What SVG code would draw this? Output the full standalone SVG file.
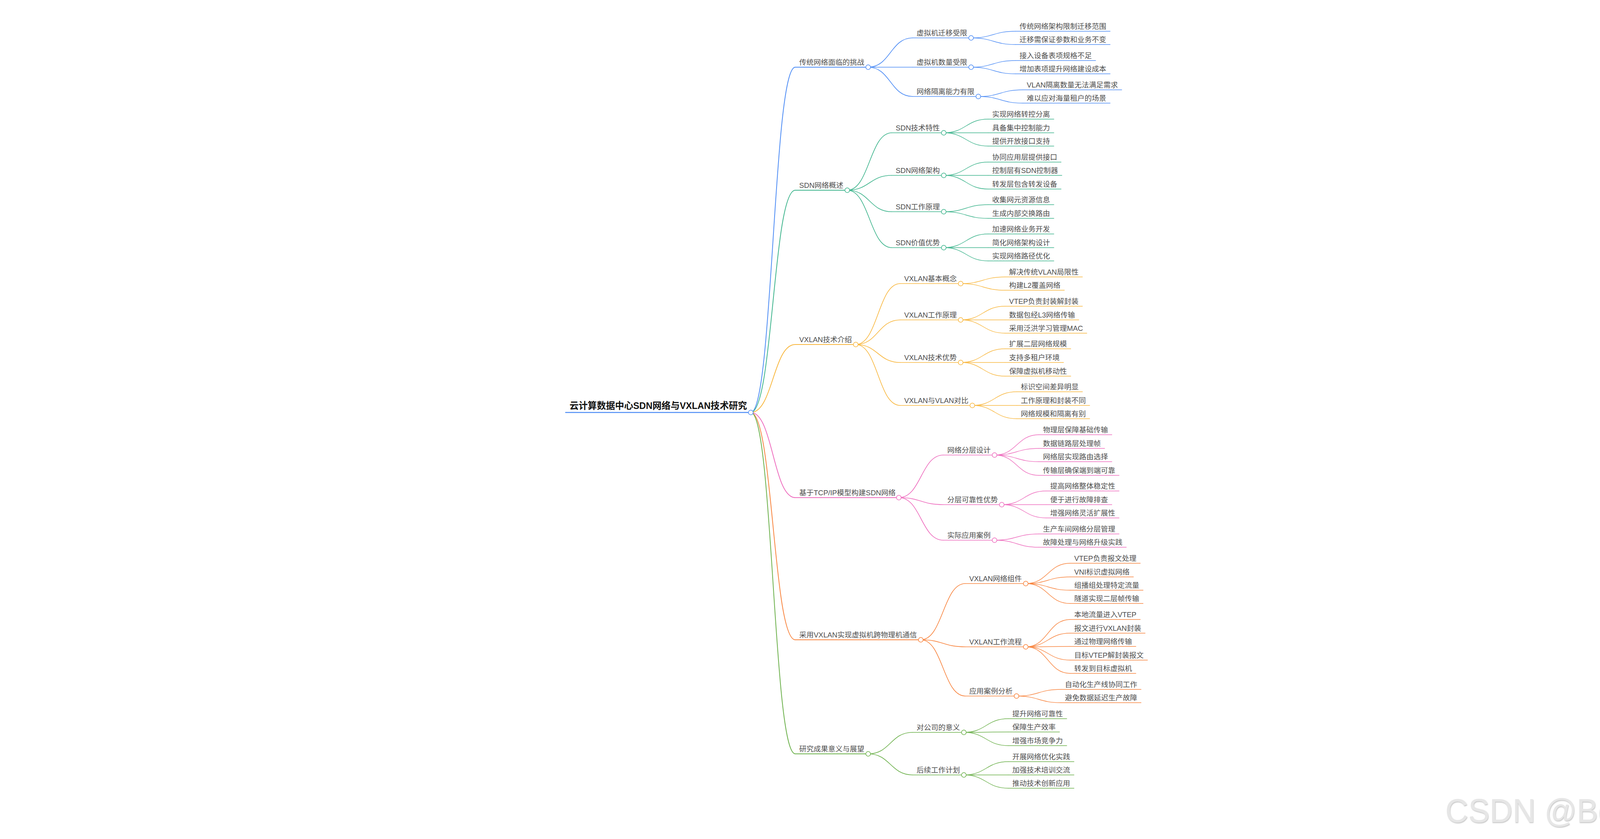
<svg xmlns="http://www.w3.org/2000/svg" width="4380" height="2148" viewBox="0 0 4380 2148">
<defs>
<style>
.b{stroke:#4D8CF5}.t{stroke:#3DB48C}.y{stroke:#F8B73E}.p{stroke:#EE6DBE}.o{stroke:#F8843E}.g{stroke:#6BB04A}
.d0{stroke-width:2.6}.d1{stroke-width:2}.d2{stroke-width:1.7}.d3{stroke-width:1.4}
#connectors path{fill:none}
line{stroke-linecap:round}
circle{fill:#fff;stroke-width:1.6}
text{font-family:"Liberation Sans","Noto Sans CJK SC",sans-serif;font-size:18.5px;fill:#4d4d4d;stroke:none}
text.root{font-size:23.3px;font-weight:bold;fill:#111}
text.wm{font-size:86px;fill:#e6e6e6}
</style>
<filter id="sh" x="-2%" y="-10%" width="104%" height="125%"><feDropShadow dx="1" dy="2" stdDeviation="1" flood-color="#b4b4b4" flood-opacity="0.8"/></filter>
</defs>
<rect width="4380" height="2148" fill="#fff"/>
<g id="connectors">
<path class="b d1" d="M1922,1056C1979,1056 1979,172 2036,172"/>
<path class="t d1" d="M1922,1056C1979,1056 1979,487 2036,487"/>
<path class="y d1" d="M1922,1056C1979,1056 1979,882 2036,882"/>
<path class="p d1" d="M1922,1056C1979,1056 1979,1274 2036,1274"/>
<path class="o d1" d="M1922,1056C1979,1056 1979,1638 2036,1638"/>
<path class="g d1" d="M1922,1056C1979,1056 1979,1930 2036,1930"/>
<path class="b d2" d="M2222.5,172C2279.5,172 2279.5,97 2336.5,97"/>
<path class="b d2" d="M2222.5,172C2279.5,172 2279.5,172 2336.5,172"/>
<path class="b d2" d="M2222.5,172C2279.5,172 2279.5,247 2336.5,247"/>
<path class="b d3" d="M2486,97C2543,97 2543,80 2600,80"/>
<path class="b d3" d="M2486,97C2543,97 2543,114 2600,114"/>
<path class="b d3" d="M2486,172C2543,172 2543,155 2600,155"/>
<path class="b d3" d="M2486,172C2543,172 2543,189 2600,189"/>
<path class="b d3" d="M2504.5,247C2561.5,247 2561.5,230 2618.5,230"/>
<path class="b d3" d="M2504.5,247C2561.5,247 2561.5,264 2618.5,264"/>
<path class="t d2" d="M2169,487C2226,487 2226,340 2283,340"/>
<path class="t d2" d="M2169,487C2226,487 2226,449 2283,449"/>
<path class="t d2" d="M2169,487C2226,487 2226,542 2283,542"/>
<path class="t d2" d="M2169,487C2226,487 2226,634 2283,634"/>
<path class="t d3" d="M2416,340C2473,340 2473,305 2530,305"/>
<path class="t d3" d="M2416,340C2473,340 2473,340 2530,340"/>
<path class="t d3" d="M2416,340C2473,340 2473,374 2530,374"/>
<path class="t d3" d="M2416,449C2473,449 2473,415 2530,415"/>
<path class="t d3" d="M2416,449C2473,449 2473,449 2530,449"/>
<path class="t d3" d="M2416,449C2473,449 2473,484 2530,484"/>
<path class="t d3" d="M2416,542C2473,542 2473,524 2530,524"/>
<path class="t d3" d="M2416,542C2473,542 2473,559 2530,559"/>
<path class="t d3" d="M2416,634C2473,634 2473,599 2530,599"/>
<path class="t d3" d="M2416,634C2473,634 2473,634 2530,634"/>
<path class="t d3" d="M2416,634C2473,634 2473,668 2530,668"/>
<path class="y d2" d="M2190.7,882C2247.7,882 2247.7,726 2304.7,726"/>
<path class="y d2" d="M2190.7,882C2247.7,882 2247.7,819 2304.7,819"/>
<path class="y d2" d="M2190.7,882C2247.7,882 2247.7,928 2304.7,928"/>
<path class="y d2" d="M2190.7,882C2247.7,882 2247.7,1038 2304.7,1038"/>
<path class="y d3" d="M2459.3,726C2516.3,726 2516.3,709 2573.3,709"/>
<path class="y d3" d="M2459.3,726C2516.3,726 2516.3,743 2573.3,743"/>
<path class="y d3" d="M2459.3,819C2516.3,819 2516.3,784 2573.3,784"/>
<path class="y d3" d="M2459.3,819C2516.3,819 2516.3,819 2573.3,819"/>
<path class="y d3" d="M2459.3,819C2516.3,819 2516.3,853 2573.3,853"/>
<path class="y d3" d="M2459.3,928C2516.3,928 2516.3,893 2573.3,893"/>
<path class="y d3" d="M2459.3,928C2516.3,928 2516.3,928 2573.3,928"/>
<path class="y d3" d="M2459.3,928C2516.3,928 2516.3,963 2573.3,963"/>
<path class="y d3" d="M2489.2,1038C2546.2,1038 2546.2,1003 2603.2,1003"/>
<path class="y d3" d="M2489.2,1038C2546.2,1038 2546.2,1038 2603.2,1038"/>
<path class="y d3" d="M2489.2,1038C2546.2,1038 2546.2,1072 2603.2,1072"/>
<path class="p d2" d="M2301,1274C2358,1274 2358,1165 2415,1165"/>
<path class="p d2" d="M2301,1274C2358,1274 2358,1292 2415,1292"/>
<path class="p d2" d="M2301,1274C2358,1274 2358,1383 2415,1383"/>
<path class="p d3" d="M2546,1165C2603,1165 2603,1113 2660,1113"/>
<path class="p d3" d="M2546,1165C2603,1165 2603,1148 2660,1148"/>
<path class="p d3" d="M2546,1165C2603,1165 2603,1182 2660,1182"/>
<path class="p d3" d="M2546,1165C2603,1165 2603,1217 2660,1217"/>
<path class="p d3" d="M2564.5,1292C2621.5,1292 2621.5,1257 2678.5,1257"/>
<path class="p d3" d="M2564.5,1292C2621.5,1292 2621.5,1292 2678.5,1292"/>
<path class="p d3" d="M2564.5,1292C2621.5,1292 2621.5,1326 2678.5,1326"/>
<path class="p d3" d="M2546,1383C2603,1383 2603,1367 2660,1367"/>
<path class="p d3" d="M2546,1383C2603,1383 2603,1401 2660,1401"/>
<path class="o d2" d="M2357.2,1638C2414.2,1638 2414.2,1494 2471.2,1494"/>
<path class="o d2" d="M2357.2,1638C2414.2,1638 2414.2,1656 2471.2,1656"/>
<path class="o d2" d="M2357.2,1638C2414.2,1638 2414.2,1782 2471.2,1782"/>
<path class="o d3" d="M2625.9,1494C2682.9,1494 2682.9,1442 2739.9,1442"/>
<path class="o d3" d="M2625.9,1494C2682.9,1494 2682.9,1477 2739.9,1477"/>
<path class="o d3" d="M2625.9,1494C2682.9,1494 2682.9,1511 2739.9,1511"/>
<path class="o d3" d="M2625.9,1494C2682.9,1494 2682.9,1545 2739.9,1545"/>
<path class="o d3" d="M2625.9,1656C2682.9,1656 2682.9,1586 2739.9,1586"/>
<path class="o d3" d="M2625.9,1656C2682.9,1656 2682.9,1621 2739.9,1621"/>
<path class="o d3" d="M2625.9,1656C2682.9,1656 2682.9,1655 2739.9,1655"/>
<path class="o d3" d="M2625.9,1656C2682.9,1656 2682.9,1690 2739.9,1690"/>
<path class="o d3" d="M2625.9,1656C2682.9,1656 2682.9,1724 2739.9,1724"/>
<path class="o d3" d="M2602.2,1782C2659.2,1782 2659.2,1765 2716.2,1765"/>
<path class="o d3" d="M2602.2,1782C2659.2,1782 2659.2,1799 2716.2,1799"/>
<path class="g d2" d="M2222.5,1930C2279.5,1930 2279.5,1875 2336.5,1875"/>
<path class="g d2" d="M2222.5,1930C2279.5,1930 2279.5,1984 2336.5,1984"/>
<path class="g d3" d="M2467.5,1875C2524.5,1875 2524.5,1840 2581.5,1840"/>
<path class="g d3" d="M2467.5,1875C2524.5,1875 2524.5,1874 2581.5,1874"/>
<path class="g d3" d="M2467.5,1875C2524.5,1875 2524.5,1909 2581.5,1909"/>
<path class="g d3" d="M2467.5,1984C2524.5,1984 2524.5,1950 2581.5,1950"/>
<path class="g d3" d="M2467.5,1984C2524.5,1984 2524.5,1984 2581.5,1984"/>
<path class="g d3" d="M2467.5,1984C2524.5,1984 2524.5,2018 2581.5,2018"/>
</g>

<g id="n0" class="b"><line class="d0" x1="1448" y1="1056" x2="1922" y2="1056"/><circle cx="1922" cy="1056" r="6"/><text class="root" x="1458" y="1047">云计算数据中心SDN网络与VXLAN技术研究</text></g>

<g id="n1" class="b"><line class="d1" x1="2036" y1="172" x2="2222.5" y2="172"/><circle cx="2222.5" cy="172" r="6"/><text x="2046" y="165.5">传统网络面临的挑战</text></g>
<g id="n1a" class="b"><line class="d2" x1="2336.5" y1="97" x2="2486" y2="97"/><circle cx="2486" cy="97" r="6"/><text x="2346.5" y="90.5">虚拟机迁移受限</text></g>
<g id="n1a1" class="b"><line class="d3" x1="2600" y1="80" x2="2842" y2="80"/><text x="2610" y="73.5">传统网络架构限制迁移范围</text></g>
<g id="n1a2" class="b"><line class="d3" x1="2600" y1="114" x2="2842" y2="114"/><text x="2610" y="107.5">迁移需保证参数和业务不变</text></g>
<g id="n1b" class="b"><line class="d2" x1="2336.5" y1="172" x2="2486" y2="172"/><circle cx="2486" cy="172" r="6"/><text x="2346.5" y="165.5">虚拟机数量受限</text></g>
<g id="n1b1" class="b"><line class="d3" x1="2600" y1="155" x2="2805" y2="155"/><text x="2610" y="148.5">接入设备表项规格不足</text></g>
<g id="n1b2" class="b"><line class="d3" x1="2600" y1="189" x2="2842" y2="189"/><text x="2610" y="182.5">增加表项提升网络建设成本</text></g>
<g id="n1c" class="b"><line class="d2" x1="2336.5" y1="247" x2="2504.5" y2="247"/><circle cx="2504.5" cy="247" r="6"/><text x="2346.5" y="240.5">网络隔离能力有限</text></g>
<g id="n1c1" class="b"><line class="d3" x1="2618.5" y1="230" x2="2871.8" y2="230"/><text x="2628.5" y="223.5">VLAN隔离数量无法满足需求</text></g>
<g id="n1c2" class="b"><line class="d3" x1="2618.5" y1="264" x2="2842" y2="264"/><text x="2628.5" y="257.5">难以应对海量租户的场景</text></g>

<g id="n2" class="t"><line class="d1" x1="2036" y1="487" x2="2169" y2="487"/><circle cx="2169" cy="487" r="6"/><text x="2046" y="480.5">SDN网络概述</text></g>
<g id="n2a" class="t"><line class="d2" x1="2283" y1="340" x2="2416" y2="340"/><circle cx="2416" cy="340" r="6"/><text x="2293" y="333.5">SDN技术特性</text></g>
<g id="n2a1" class="t"><line class="d3" x1="2530" y1="305" x2="2698" y2="305"/><text x="2540" y="298.5">实现网络转控分离</text></g>
<g id="n2a2" class="t"><line class="d3" x1="2530" y1="340" x2="2698" y2="340"/><text x="2540" y="333.5">具备集中控制能力</text></g>
<g id="n2a3" class="t"><line class="d3" x1="2530" y1="374" x2="2698" y2="374"/><text x="2540" y="367.5">提供开放接口支持</text></g>
<g id="n2b" class="t"><line class="d2" x1="2283" y1="449" x2="2416" y2="449"/><circle cx="2416" cy="449" r="6"/><text x="2293" y="442.5">SDN网络架构</text></g>
<g id="n2b1" class="t"><line class="d3" x1="2530" y1="415" x2="2716.5" y2="415"/><text x="2540" y="408.5">协同应用层提供接口</text></g>
<g id="n2b2" class="t"><line class="d3" x1="2530" y1="449" x2="2718.5" y2="449"/><text x="2540" y="442.5">控制层有SDN控制器</text></g>
<g id="n2b3" class="t"><line class="d3" x1="2530" y1="484" x2="2716.5" y2="484"/><text x="2540" y="477.5">转发层包含转发设备</text></g>
<g id="n2c" class="t"><line class="d2" x1="2283" y1="542" x2="2416" y2="542"/><circle cx="2416" cy="542" r="6"/><text x="2293" y="535.5">SDN工作原理</text></g>
<g id="n2c1" class="t"><line class="d3" x1="2530" y1="524" x2="2698" y2="524"/><text x="2540" y="517.5">收集网元资源信息</text></g>
<g id="n2c2" class="t"><line class="d3" x1="2530" y1="559" x2="2698" y2="559"/><text x="2540" y="552.5">生成内部交换路由</text></g>
<g id="n2d" class="t"><line class="d2" x1="2283" y1="634" x2="2416" y2="634"/><circle cx="2416" cy="634" r="6"/><text x="2293" y="627.5">SDN价值优势</text></g>
<g id="n2d1" class="t"><line class="d3" x1="2530" y1="599" x2="2698" y2="599"/><text x="2540" y="592.5">加速网络业务开发</text></g>
<g id="n2d2" class="t"><line class="d3" x1="2530" y1="634" x2="2698" y2="634"/><text x="2540" y="627.5">简化网络架构设计</text></g>
<g id="n2d3" class="t"><line class="d3" x1="2530" y1="668" x2="2698" y2="668"/><text x="2540" y="661.5">实现网络路径优化</text></g>

<g id="n3" class="y"><line class="d1" x1="2036" y1="882" x2="2190.7" y2="882"/><circle cx="2190.7" cy="882" r="6"/><text x="2046" y="875.5">VXLAN技术介绍</text></g>
<g id="n3a" class="y"><line class="d2" x1="2304.7" y1="726" x2="2459.3" y2="726"/><circle cx="2459.3" cy="726" r="6"/><text x="2314.7" y="719.5">VXLAN基本概念</text></g>
<g id="n3a1" class="y"><line class="d3" x1="2573.3" y1="709" x2="2771.1" y2="709"/><text x="2583.3" y="702.5">解决传统VLAN局限性</text></g>
<g id="n3a2" class="y"><line class="d3" x1="2573.3" y1="743" x2="2724.9" y2="743"/><text x="2583.3" y="736.5">构建L2覆盖网络</text></g>
<g id="n3b" class="y"><line class="d2" x1="2304.7" y1="819" x2="2459.3" y2="819"/><circle cx="2459.3" cy="819" r="6"/><text x="2314.7" y="812.5">VXLAN工作原理</text></g>
<g id="n3b1" class="y"><line class="d3" x1="2573.3" y1="784" x2="2771.1" y2="784"/><text x="2583.3" y="777.5">VTEP负责封装解封装</text></g>
<g id="n3b2" class="y"><line class="d3" x1="2573.3" y1="819" x2="2761.9" y2="819"/><text x="2583.3" y="812.5">数据包经L3网络传输</text></g>
<g id="n3b3" class="y"><line class="d3" x1="2573.3" y1="853" x2="2782.4" y2="853"/><text x="2583.3" y="846.5">采用泛洪学习管理MAC</text></g>
<g id="n3c" class="y"><line class="d2" x1="2304.7" y1="928" x2="2459.3" y2="928"/><circle cx="2459.3" cy="928" r="6"/><text x="2314.7" y="921.5">VXLAN技术优势</text></g>
<g id="n3c1" class="y"><line class="d3" x1="2573.3" y1="893" x2="2741.3" y2="893"/><text x="2583.3" y="886.5">扩展二层网络规模</text></g>
<g id="n3c2" class="y"><line class="d3" x1="2573.3" y1="928" x2="2722.8" y2="928"/><text x="2583.3" y="921.5">支持多租户环境</text></g>
<g id="n3c3" class="y"><line class="d3" x1="2573.3" y1="963" x2="2741.3" y2="963"/><text x="2583.3" y="956.5">保障虚拟机移动性</text></g>
<g id="n3d" class="y"><line class="d2" x1="2304.7" y1="1038" x2="2489.2" y2="1038"/><circle cx="2489.2" cy="1038" r="6"/><text x="2314.7" y="1031.5">VXLAN与VLAN对比</text></g>
<g id="n3d1" class="y"><line class="d3" x1="2603.2" y1="1003" x2="2771.2" y2="1003"/><text x="2613.2" y="996.5">标识空间差异明显</text></g>
<g id="n3d2" class="y"><line class="d3" x1="2603.2" y1="1038" x2="2789.7" y2="1038"/><text x="2613.2" y="1031.5">工作原理和封装不同</text></g>
<g id="n3d3" class="y"><line class="d3" x1="2603.2" y1="1072" x2="2789.7" y2="1072"/><text x="2613.2" y="1065.5">网络规模和隔离有别</text></g>

<g id="n4" class="p"><line class="d1" x1="2036" y1="1274" x2="2301" y2="1274"/><circle cx="2301" cy="1274" r="6"/><text x="2046" y="1267.5">基于TCP/IP模型构建SDN网络</text></g>
<g id="n4a" class="p"><line class="d2" x1="2415" y1="1165" x2="2546" y2="1165"/><circle cx="2546" cy="1165" r="6"/><text x="2425" y="1158.5">网络分层设计</text></g>
<g id="n4a1" class="p"><line class="d3" x1="2660" y1="1113" x2="2846.5" y2="1113"/><text x="2670" y="1106.5">物理层保障基础传输</text></g>
<g id="n4a2" class="p"><line class="d3" x1="2660" y1="1148" x2="2828" y2="1148"/><text x="2670" y="1141.5">数据链路层处理帧</text></g>
<g id="n4a3" class="p"><line class="d3" x1="2660" y1="1182" x2="2846.5" y2="1182"/><text x="2670" y="1175.5">网络层实现路由选择</text></g>
<g id="n4a4" class="p"><line class="d3" x1="2660" y1="1217" x2="2865" y2="1217"/><text x="2670" y="1210.5">传输层确保端到端可靠</text></g>
<g id="n4b" class="p"><line class="d2" x1="2415" y1="1292" x2="2564.5" y2="1292"/><circle cx="2564.5" cy="1292" r="6"/><text x="2425" y="1285.5">分层可靠性优势</text></g>
<g id="n4b1" class="p"><line class="d3" x1="2678.5" y1="1257" x2="2865" y2="1257"/><text x="2688.5" y="1250.5">提高网络整体稳定性</text></g>
<g id="n4b2" class="p"><line class="d3" x1="2678.5" y1="1292" x2="2846.5" y2="1292"/><text x="2688.5" y="1285.5">便于进行故障排查</text></g>
<g id="n4b3" class="p"><line class="d3" x1="2678.5" y1="1326" x2="2865" y2="1326"/><text x="2688.5" y="1319.5">增强网络灵活扩展性</text></g>
<g id="n4c" class="p"><line class="d2" x1="2415" y1="1383" x2="2546" y2="1383"/><circle cx="2546" cy="1383" r="6"/><text x="2425" y="1376.5">实际应用案例</text></g>
<g id="n4c1" class="p"><line class="d3" x1="2660" y1="1367" x2="2865" y2="1367"/><text x="2670" y="1360.5">生产车间网络分层管理</text></g>
<g id="n4c2" class="p"><line class="d3" x1="2660" y1="1401" x2="2883.5" y2="1401"/><text x="2670" y="1394.5">故障处理与网络升级实践</text></g>

<g id="n5" class="o"><line class="d1" x1="2036" y1="1638" x2="2357.2" y2="1638"/><circle cx="2357.2" cy="1638" r="6"/><text x="2046" y="1631.5">采用VXLAN实现虚拟机跨物理机通信</text></g>
<g id="n5a" class="o"><line class="d2" x1="2471.2" y1="1494" x2="2625.9" y2="1494"/><circle cx="2625.9" cy="1494" r="6"/><text x="2481.2" y="1487.5">VXLAN网络组件</text></g>
<g id="n5a1" class="o"><line class="d3" x1="2739.9" y1="1442" x2="2919.2" y2="1442"/><text x="2749.9" y="1435.5">VTEP负责报文处理</text></g>
<g id="n5a2" class="o"><line class="d3" x1="2739.9" y1="1477" x2="2901.7" y2="1477"/><text x="2749.9" y="1470.5">VNI标识虚拟网络</text></g>
<g id="n5a3" class="o"><line class="d3" x1="2739.9" y1="1511" x2="2926.4" y2="1511"/><text x="2749.9" y="1504.5">组播组处理特定流量</text></g>
<g id="n5a4" class="o"><line class="d3" x1="2739.9" y1="1545" x2="2926.4" y2="1545"/><text x="2749.9" y="1538.5">隧道实现二层帧传输</text></g>
<g id="n5b" class="o"><line class="d2" x1="2471.2" y1="1656" x2="2625.9" y2="1656"/><circle cx="2625.9" cy="1656" r="6"/><text x="2481.2" y="1649.5">VXLAN工作流程</text></g>
<g id="n5b1" class="o"><line class="d3" x1="2739.9" y1="1586" x2="2919.2" y2="1586"/><text x="2749.9" y="1579.5">本地流量进入VTEP</text></g>
<g id="n5b2" class="o"><line class="d3" x1="2739.9" y1="1621" x2="2931.6" y2="1621"/><text x="2749.9" y="1614.5">报文进行VXLAN封装</text></g>
<g id="n5b3" class="o"><line class="d3" x1="2739.9" y1="1655" x2="2907.9" y2="1655"/><text x="2749.9" y="1648.5">通过物理网络传输</text></g>
<g id="n5b4" class="o"><line class="d3" x1="2739.9" y1="1690" x2="2937.7" y2="1690"/><text x="2749.9" y="1683.5">目标VTEP解封装报文</text></g>
<g id="n5b5" class="o"><line class="d3" x1="2739.9" y1="1724" x2="2907.9" y2="1724"/><text x="2749.9" y="1717.5">转发到目标虚拟机</text></g>
<g id="n5c" class="o"><line class="d2" x1="2471.2" y1="1782" x2="2602.2" y2="1782"/><circle cx="2602.2" cy="1782" r="6"/><text x="2481.2" y="1775.5">应用案例分析</text></g>
<g id="n5c1" class="o"><line class="d3" x1="2716.2" y1="1765" x2="2921.2" y2="1765"/><text x="2726.2" y="1758.5">自动化生产线协同工作</text></g>
<g id="n5c2" class="o"><line class="d3" x1="2716.2" y1="1799" x2="2921.2" y2="1799"/><text x="2726.2" y="1792.5">避免数据延迟生产故障</text></g>

<g id="n6" class="g"><line class="d1" x1="2036" y1="1930" x2="2222.5" y2="1930"/><circle cx="2222.5" cy="1930" r="6"/><text x="2046" y="1923.5">研究成果意义与展望</text></g>
<g id="n6a" class="g"><line class="d2" x1="2336.5" y1="1875" x2="2467.5" y2="1875"/><circle cx="2467.5" cy="1875" r="6"/><text x="2346.5" y="1868.5">对公司的意义</text></g>
<g id="n6a1" class="g"><line class="d3" x1="2581.5" y1="1840" x2="2731" y2="1840"/><text x="2591.5" y="1833.5">提升网络可靠性</text></g>
<g id="n6a2" class="g"><line class="d3" x1="2581.5" y1="1874" x2="2712.5" y2="1874"/><text x="2591.5" y="1867.5">保障生产效率</text></g>
<g id="n6a3" class="g"><line class="d3" x1="2581.5" y1="1909" x2="2731" y2="1909"/><text x="2591.5" y="1902.5">增强市场竞争力</text></g>
<g id="n6b" class="g"><line class="d2" x1="2336.5" y1="1984" x2="2467.5" y2="1984"/><circle cx="2467.5" cy="1984" r="6"/><text x="2346.5" y="1977.5">后续工作计划</text></g>
<g id="n6b1" class="g"><line class="d3" x1="2581.5" y1="1950" x2="2749.5" y2="1950"/><text x="2591.5" y="1943.5">开展网络优化实践</text></g>
<g id="n6b2" class="g"><line class="d3" x1="2581.5" y1="1984" x2="2749.5" y2="1984"/><text x="2591.5" y="1977.5">加强技术培训交流</text></g>
<g id="n6b3" class="g"><line class="d3" x1="2581.5" y1="2018" x2="2749.5" y2="2018"/><text x="2591.5" y="2011.5">推动技术创新应用</text></g>

<text class="wm" x="3700" y="2105" textLength="636" lengthAdjust="spacingAndGlyphs" filter="url(#sh)">CSDN @Bol5261</text>
</svg>
